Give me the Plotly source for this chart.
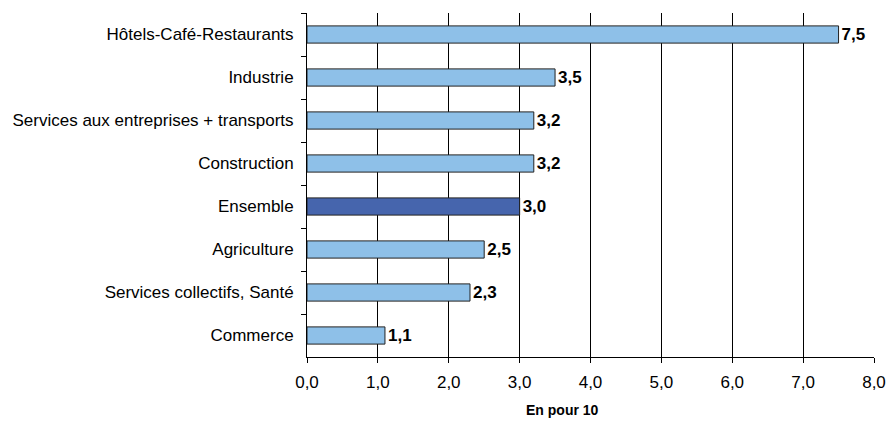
import plotly.graph_objects as go

# Share of employees, by sector (en pour 10)
categories = [
    "Hôtels-Café-Restaurants",
    "Industrie",
    "Services aux entreprises + transports",
    "Construction",
    "Ensemble",
    "Agriculture",
    "Services collectifs, Santé",
    "Commerce",
]
values = [7.5, 3.5, 3.2, 3.2, 3.0, 2.5, 2.3, 1.1]
x_ticks = [0, 1, 2, 3, 4, 5, 6, 7, 8]
x_tick_labels = ["0,0", "1,0", "2,0", "3,0", "4,0", "5,0", "6,0", "7,0", "8,0"]

LIGHT = "#8EC0E8"
DARK = "#4665AD"
colors = [DARK if c == "Ensemble" else LIGHT for c in categories]
labels = [f"{v:.1f}".replace(".", ",") for v in values]

FONT = "Liberation Sans, Arial, sans-serif"

fig = go.Figure(
    go.Bar(
        x=values,
        y=categories,
        orientation="h",
        marker=dict(color=colors, line=dict(color="#222222", width=1)),
        width=0.4,
        text=labels,
        textposition="outside",
        constraintext="none",
        textfont=dict(family=FONT, size=17, color="black", weight="bold"),
        cliponaxis=False,
    )
)

fig.update_layout(
    width=886,
    height=421,
    margin=dict(l=307, r=12, t=13, b=64),
    plot_bgcolor="white",
    paper_bgcolor="white",
    showlegend=False,
    font=dict(family=FONT, size=17, color="black"),
    xaxis=dict(
        range=[0, 8],
        tickvals=x_ticks,
        ticktext=x_tick_labels,
        automargin=False,
        showgrid=True,
        gridcolor="black",
        gridwidth=1,
        zeroline=False,
        showline=True,
        linecolor="black",
        linewidth=1,
        ticks="outside",
        ticklen=5,
        tickcolor="black",
        tickfont=dict(size=17),
        ticklabelstandoff=5,
    ),
    yaxis=dict(
        autorange="reversed",
        automargin=False,
        showline=True,
        linecolor="black",
        linewidth=1,
        ticks="outside",
        tickson="boundaries",
        ticklen=5,
        tickcolor="black",
        showgrid=False,
        tickfont=dict(size=17),
        ticklabelstandoff=9,
    ),
    annotations=[
        dict(
            text="<b>En pour 10</b>",
            xref="paper",
            yref="paper",
            x=0.451,
            y=-0.154,
            xanchor="center",
            yanchor="middle",
            showarrow=False,
            font=dict(family=FONT, size=14, color="black"),
        )
    ],
)

fig.write_html("out.html")
